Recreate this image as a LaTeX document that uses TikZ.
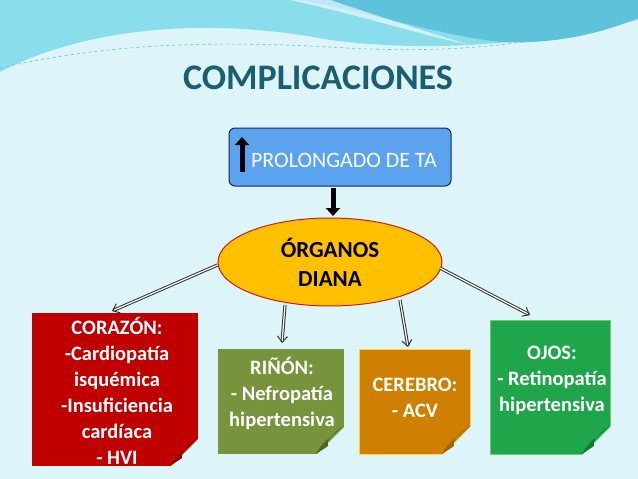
\documentclass[tikz,border=0pt]{standalone}
\usepackage{fontspec}
\setmainfont{Carlito}
\usetikzlibrary{shapes.geometric,arrows.meta}
\definecolor{bg}{HTML}{DDF4F9}
\definecolor{wave1}{HTML}{8ADDEB}
\definecolor{wave2}{HTML}{5EC3DA}
\definecolor{titlec}{HTML}{1A5E72}
\definecolor{navy}{RGB}{20,40,80}
\definecolor{boxblue}{RGB}{91,163,238}
\definecolor{ellred}{RGB}{200,30,30}
\definecolor{ellfill}{RGB}{255,192,0}
\definecolor{cred}{RGB}{192,0,0}
\definecolor{cgreen}{RGB}{119,147,60}
\definecolor{corange}{RGB}{208,128,0}
\definecolor{cbright}{RGB}{31,166,74}
\definecolor{yb}{RGB}{255,210,60}
\definecolor{gb}{RGB}{110,200,110}
\definecolor{kred}{RGB}{140,0,0}
\definecolor{kgreen}{RGB}{80,100,35}
\definecolor{korange}{RGB}{160,100,0}
\definecolor{kbright}{RGB}{20,120,50}
\tikzset{
 card/.style={text=white,font=\bfseries\fontsize{20.5}{26}\selectfont,align=center,inner sep=0pt},
 con/.style={double=white,double distance=1.2pt,line width=1pt,draw=black!80,-{Straight Barb[length=6pt,width=10pt]}},
}
\begin{document}
\begin{tikzpicture}[x=1pt,y=-1pt]
\useasboundingbox (0,0) rectangle (638,479);
\fill[bg] (0,0) rectangle (638,479);
\fill[wave1] (0,0) -- (0,72) .. controls (80,30) and (200,15) .. (330,40) .. controls (450,55) and (550,40) .. (638,20) -- (638,0) -- cycle;
\fill[wave2] (300,0) .. controls (380,15) and (440,35) .. (500,42) .. controls (560,45) and (610,30) .. (638,18) -- (638,0) -- cycle;
\fill[white,opacity=0.6] (290,0) .. controls (360,15) and (420,35) .. (470,45) .. controls (420,30) and (360,10) .. (330,0) -- cycle;
\draw[wave2,dashed,line width=0.6pt] (0,68) .. controls (100,45) and (200,40) .. (330,47) .. controls (450,55) and (550,45) .. (638,15);
\node[font=\bfseries\fontsize{36}{40}\selectfont,text=titlec] (title) at (318,78) {COMPLICACIONES};
\node[draw=navy,line width=1pt,fill=boxblue,rounded corners=6pt,minimum width=222pt,minimum height=58pt] (box) at (340,157) {};
\node[text=white,font=\fontsize{22}{24}\selectfont] (boxt) at (344,160) {PROLONGADO DE TA};
\draw[line width=5pt,-{Triangle[length=8pt,width=14pt]}] (242,172) -- (242,137);
\coordinate (dA) at (333,188);
\coordinate (dB) at (333,216);
\draw[line width=5pt,-{Triangle[length=8pt,width=14pt]}] (dA) -- (dB);
\node[ellipse,draw=ellred,line width=1pt,fill=ellfill,minimum width=224pt,minimum height=88pt,align=center,font=\bfseries\fontsize{23}{29}\selectfont] (org) at (330,262) {ÓRGANOS\\DIANA};
% cards
\fill[cred] (32,313) rectangle (198,466);
\node[card] (cor) at (117,391) {CORAZÓN:\\-Cardiopatía\\isquémica\\-Insuficiencia\\cardíaca\\- HVI};
\fill[cgreen] (218,349) rectangle (344,454);
\node[card] (rin) at (282,393) {RIÑÓN:\\- Nefropatía\\hipertensiva};
\fill[corange] (359,349) rectangle (470,454);
\draw[yb,line width=1pt] (359,349) rectangle (470,454);
\node[card] (cer) at (415,398) {CEREBRO:\\- ACV};
\fill[cbright] (490,320) rectangle (610,454);
\draw[gb,line width=1pt] (490,320) rectangle (610,454);
\node[card] (ojo) at (552,380) {OJOS:\\- Retinopatía\\hipertensiva};
% curls
\foreach \x/\y/\c in {198/466/kred,344/454/kgreen,470/454/korange,610/454/kbright}{
 \fill[bg] (\x-28,\y+1) -- (\x+1,\y-28) -- (\x+1,\y+1) -- cycle;
 \fill[\c] (\x-28,\y) .. controls (\x-22,\y-12) and (\x-12,\y-18) .. (\x,\y-28) .. controls (\x-12,\y-20) and (\x-18,\y-14) .. (\x-16,\y-8) -- cycle;
}
\draw[con] (org.west) ++(0,3) -- (112,311);
\draw[con] (285,305) -- (282,343);
\draw[con] (400,300) -- (408,347);
\draw[con] (440,268) -- (530,315);
\end{tikzpicture}
\end{document}
